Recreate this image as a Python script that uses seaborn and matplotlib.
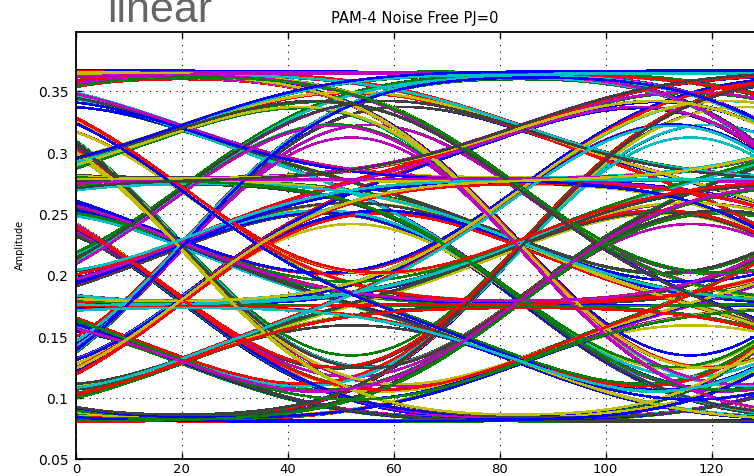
import math
import numpy as np
import pandas as pd
import matplotlib
matplotlib.use("Agg")
import matplotlib.pyplot as plt
import seaborn as sns
from matplotlib.ticker import FixedLocator, FixedFormatter

# ---------------- data ----------------
title_text = "PAM-4 Noise Free PJ=0"
y_label = "Amplitude"
corner_note = "linear"

# PAM-4 amplitude levels (flat lines of the eye)
pam4_levels = [0.079, 0.175, 0.278, 0.367]

# transmitted PAM-4 symbol sequence (index into pam4_levels)
symbols = [3, 3, 3, 0, 2, 1, 1, 0, 3, 3, 3, 2, 2, 0, 1, 1, 2, 0, 3, 3, 0, 0, 0, 3, 1, 2, 2, 3, 1, 1,
           0, 0, 0, 2, 3, 3, 2, 0, 1, 3, 3, 2, 1, 1, 0, 0, 2, 3, 2, 2, 0, 1, 1, 1, 3, 3, 0, 2, 3, 0,
           0, 1, 2, 1, 3, 3, 2, 2, 2, 0, 1, 0, 3, 3, 1, 1, 2, 2, 0, 0, 0, 2, 1, 1, 3, 3, 0, 3, 3, 2,
           0, 1, 1, 2, 2, 3, 0, 0, 1, 3, 3, 3, 2, 2, 0, 0, 2, 1, 1, 0, 3, 1, 1, 2, 3, 3, 0, 2, 2, 1,
           0, 3, 3, 0, 0, 1, 2, 0, 0, 0, 1, 3, 2, 2, 3, 1, 0, 3, 3, 1, 0, 0, 2, 2, 3, 3, 1, 1, 2, 0,
           0, 3, 3, 2, 1, 0, 1, 2, 2, 2, 3, 3, 3, 0, 1, 1, 0, 2, 0, 3, 2, 1, 1, 3, 3, 0, 0, 0, 2, 1,
           0, 0, 3, 2, 2, 1, 3, 0, 1, 1, 1, 2, 3, 2, 0, 0, 3, 3, 3, 1, 2, 0, 2, 2, 1, 3, 3, 2, 0, 0,
           1, 1, 3, 0, 2, 2, 2, 1, 0, 0, 0, 3, 3, 1, 2, 1, 0, 2, 3, 3, 3, 1, 1, 0, 0, 2, 2, 3, 2, 1,
           1, 1, 0, 3, 0, 0, 2, 3, 1, 1, 2, 2, 2, 0, 0, 3, 3, 2, 2, 1, 0, 0, 1, 3, 3, 0, 1, 2, 2, 0,
           3, 3, 3, 0, 0, 1, 1, 1, 2, 3, 0, 2, 1, 2, 3, 3, 1, 0, 0, 0, 2, 2, 1, 1, 3, 2, 2, 0, 1, 3,
           0, 0, 3, 3, 1, 2, 2, 2, 3, 1, 0, 1, 1, 0, 2, 2, 3, 3]

samples_per_symbol = 64      # one unit interval in samples
window_samples = 128         # two unit intervals per eye trace
first_crossing = 20          # sample index of the first crossing in a trace
edge_sigma = 23.0            # main Gaussian edge spread of the channel (samples)
tail_sigma = 70.0            # slow settling component of the channel (samples)
tail_weight = 0.06           # share of the slow component

x_ticks = [0, 20, 40, 60, 80, 100, 120]
y_ticks = [0.05, 0.10, 0.15, 0.20, 0.25, 0.30, 0.35]
y_tick_labels = ["0.05", "0.1", "0.15", "0.2", "0.25", "0.3", "0.35"]
x_limits = (0, 128)
y_limits = (0.05, 0.398)

matlab_colors = ["#0000ff", "#008000", "#ff0000", "#00bfbf", "#bf00bf", "#bfbf00", "#404040"]

# ---------------- waveform (band-limited PAM-4) ----------------
lev = np.array(pam4_levels)[np.array(symbols)]
n_sym = len(symbols)
gx = np.arange(n_sym * samples_per_symbol, dtype=float)
wave = np.full(gx.shape, lev[0])
verf = np.vectorize(math.erf)


def step_response(t, sigma, span):
    s = (t > 0).astype(float)
    m = np.abs(t) <= span
    s[m] = 0.5 * (1.0 + verf(t[m] / (sigma * math.sqrt(2.0))))
    return s


for i in range(1, n_sym):
    d = lev[i] - lev[i - 1]
    if d == 0:
        continue
    t = gx - i * samples_per_symbol
    s = (1 - tail_weight) * step_response(t, edge_sigma, 160) \
        + tail_weight * step_response(t, tail_sigma, 420)
    wave += d * s

rows = []
local_x = np.arange(window_samples + 1)
offset = samples_per_symbol - first_crossing
k = 0
while offset + k * samples_per_symbol + window_samples < len(wave):
    start = offset + k * samples_per_symbol
    seg = wave[start:start + window_samples + 1]
    rows.append(pd.DataFrame({"x": local_x, "amplitude": seg, "trace": f"t{k:03d}"}))
    k += 1
df = pd.concat(rows, ignore_index=True)
trace_ids = list(dict.fromkeys(df["trace"]))
palette = {tid: matlab_colors[i % len(matlab_colors)] for i, tid in enumerate(trace_ids)}

# ---------------- figure ----------------
sns.set_theme(style="white")
plt.rcParams["font.family"] = ["DejaVu Sans"]

fig = plt.figure(figsize=(7.54, 4.77), dpi=100)
ax = fig.add_axes([76 / 754, 1 - 460 / 477, (754 - 76) / 754, (460 - 33) / 477])

sns.lineplot(data=df, x="x", y="amplitude", hue="trace", hue_order=trace_ids,
             palette=palette, legend=False, estimator=None, sort=False,
             linewidth=1.1, antialiased=False, ax=ax)

ax.set_xlim(*x_limits)
ax.set_ylim(*y_limits)
ax.xaxis.set_major_locator(FixedLocator(x_ticks))
ax.yaxis.set_major_locator(FixedLocator(y_ticks))
ax.yaxis.set_major_formatter(FixedFormatter(y_tick_labels))
ax.set_xlabel("")
ax.set_ylabel(y_label, fontsize=7, color="black")
ax.yaxis.set_label_coords(-0.075, 0.503)

ax.grid(True, color="black", linestyle=(0, (1, 5)), linewidth=0.8)
ax.set_axisbelow(True)
ax.tick_params(axis="both", direction="in", length=4, width=1, colors="black",
               labelsize=10, top=True, bottom=True, left=True, right=False)
ax.tick_params(axis="x", pad=2.0, labelsize=9.5)
ax.tick_params(axis="y", pad=5.5)
for side in ["left", "bottom", "top"]:
    ax.spines[side].set_visible(True)
    ax.spines[side].set_color("black")
    ax.spines[side].set_linewidth(1.3)
ax.spines["right"].set_visible(False)

ax.set_title(title_text, fontsize=10.6, pad=7, color="black")

fig.text(107 / 754, 1 - 22 / 477, corner_note, fontsize=31, color="#666666",
         family=["Liberation Sans", "DejaVu Sans"], ha="left", va="baseline")

fig.savefig("out.png", dpi=100)
